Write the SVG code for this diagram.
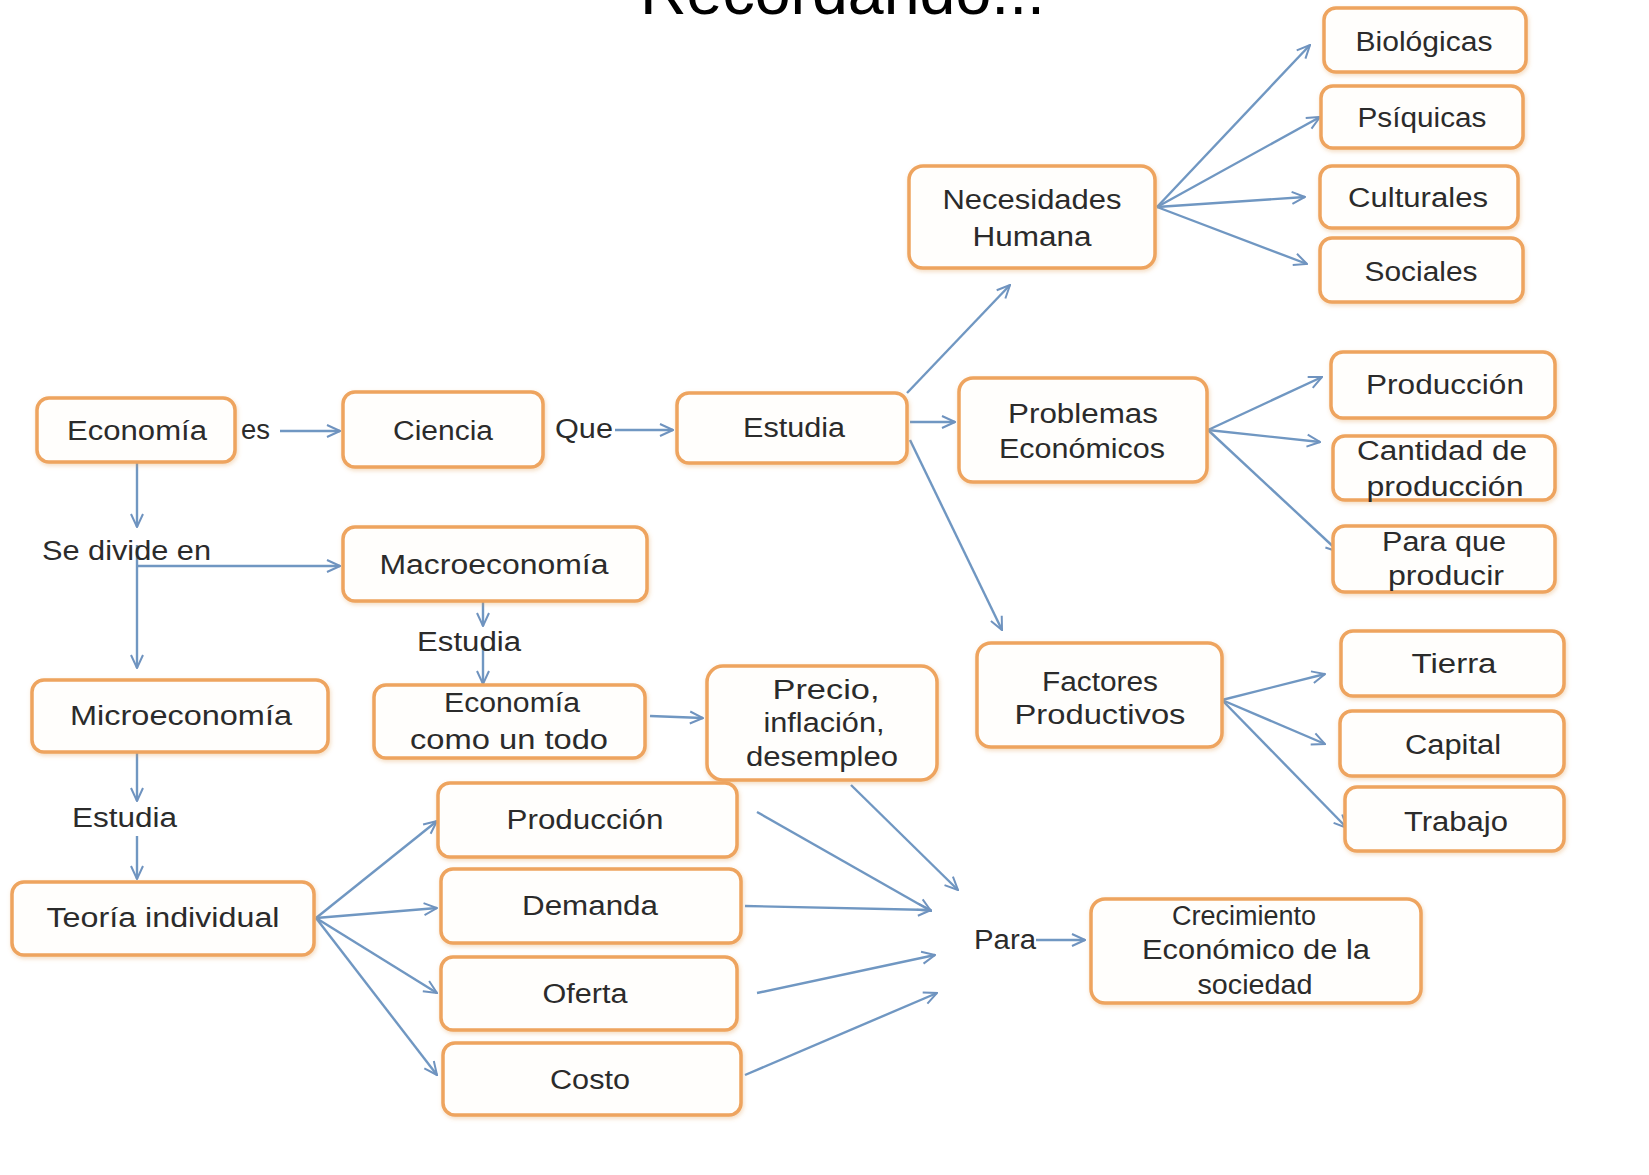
<svg xmlns="http://www.w3.org/2000/svg" width="1649" height="1175" viewBox="0 0 1649 1175">
<defs>
<filter id="sh" x="-10%" y="-10%" width="120%" height="130%">
<feDropShadow dx="1" dy="2" stdDeviation="2" flood-color="#e09a50" flood-opacity="0.35"/>
</filter>
<marker id="ar" viewBox="0 0 16 16" refX="15" refY="8" markerWidth="16" markerHeight="16" markerUnits="userSpaceOnUse" orient="auto">
<path d="M2,2 L15,8 L2,14" fill="none" stroke="#6f93bf" stroke-width="2"/>
</marker>
</defs>
<style>
.b{fill:#fffefc;stroke:#eea45e;stroke-width:3.5;filter:url(#sh)}
.t{font-family:"Liberation Sans",Arial,sans-serif;font-size:27px;fill:#2b2b2b;text-anchor:middle}
.l{font-family:"Liberation Sans",Arial,sans-serif;font-size:27px;fill:#2b2b2b}
.c{fill:none;stroke:#7097c2;stroke-width:2.4;marker-end:url(#ar)}
.n{fill:none;stroke:#7097c2;stroke-width:2.4}
</style>
<rect width="1649" height="1175" fill="#ffffff"/>
<text x="640" y="14" font-family="Liberation Sans,Arial,sans-serif" font-size="64" fill="#000" textLength="405" lengthAdjust="spacingAndGlyphs">Recordando...</text>

<g id="connectors">
<line class="c" x1="280" y1="431" x2="340" y2="431"/>
<line class="c" x1="615" y1="430" x2="673" y2="430"/>
<line class="c" x1="137" y1="462" x2="137" y2="527"/>
<line class="c" x1="137" y1="545" x2="137" y2="668"/>
<line class="c" x1="137" y1="566" x2="340" y2="566"/>
<line class="c" x1="483" y1="601" x2="483" y2="626"/>
<line class="c" x1="483" y1="640" x2="483" y2="684"/>
<line class="c" x1="650" y1="716" x2="703" y2="718"/>
<line class="c" x1="137" y1="752" x2="137" y2="801"/>
<line class="c" x1="137" y1="836" x2="137" y2="879"/>
<line class="c" x1="316" y1="918" x2="437" y2="821"/>
<line class="c" x1="316" y1="918" x2="437" y2="908"/>
<line class="c" x1="316" y1="918" x2="437" y2="993"/>
<line class="c" x1="316" y1="918" x2="437" y2="1075"/>
<line class="c" x1="757" y1="812" x2="931" y2="911"/>
<line class="c" x1="851" y1="785" x2="958" y2="890"/>
<line class="c" x1="745" y1="906" x2="931" y2="910"/>
<line class="c" x1="757" y1="993" x2="935" y2="955"/>
<line class="c" x1="745" y1="1075" x2="937" y2="993"/>
<line class="c" x1="1036" y1="940" x2="1085" y2="940"/>
<line class="c" x1="907" y1="393" x2="1010" y2="285"/>
<line class="c" x1="910" y1="422" x2="955" y2="422"/>
<line class="c" x1="910" y1="440" x2="1002" y2="630"/>
<line class="c" x1="1157" y1="207" x2="1310" y2="45"/>
<line class="c" x1="1157" y1="207" x2="1320" y2="117"/>
<line class="c" x1="1157" y1="207" x2="1305" y2="197"/>
<line class="c" x1="1157" y1="207" x2="1307" y2="264"/>
<line class="c" x1="1208" y1="430" x2="1322" y2="377"/>
<line class="c" x1="1208" y1="430" x2="1320" y2="442"/>
<line class="c" x1="1208" y1="430" x2="1339" y2="552"/>
<line class="c" x1="1222" y1="700" x2="1325" y2="674"/>
<line class="c" x1="1222" y1="700" x2="1325" y2="744"/>
<line class="c" x1="1222" y1="700" x2="1347" y2="828"/>
</g>

<g id="labels">
<text class="l" x="241" y="439" textLength="29" lengthAdjust="spacingAndGlyphs">es</text>
<text class="l" x="555" y="438" textLength="58" lengthAdjust="spacingAndGlyphs">Que</text>
<text class="l" x="42" y="560" textLength="169" lengthAdjust="spacingAndGlyphs">Se divide en</text>
<text class="l" x="417" y="651" textLength="104" lengthAdjust="spacingAndGlyphs">Estudia</text>
<text class="l" x="72" y="827" textLength="105" lengthAdjust="spacingAndGlyphs">Estudia</text>
<text class="l" x="974" y="949" textLength="62" lengthAdjust="spacingAndGlyphs">Para</text>
</g>

<g id="economia"><rect class="b" x="37" y="398" width="198" height="64" rx="12"/><text class="t" x="137" y="440" textLength="140" lengthAdjust="spacingAndGlyphs">Economía</text></g>
<g id="ciencia"><rect class="b" x="343" y="392" width="200" height="75" rx="12"/><text class="t" x="443" y="440" textLength="100" lengthAdjust="spacingAndGlyphs">Ciencia</text></g>
<g id="estudia"><rect class="b" x="677" y="393" width="230" height="70" rx="12"/><text class="t" x="794" y="437" textLength="102" lengthAdjust="spacingAndGlyphs">Estudia</text></g>
<g id="necesidades"><rect class="b" x="909" y="166" width="246" height="102" rx="14"/><text class="t" x="1032" y="209" textLength="179" lengthAdjust="spacingAndGlyphs">Necesidades</text><text class="t" x="1032" y="246" textLength="119" lengthAdjust="spacingAndGlyphs">Humana</text></g>
<g id="biologicas"><rect class="b" x="1324" y="8" width="202" height="64" rx="12"/><text class="t" x="1424" y="51" textLength="137" lengthAdjust="spacingAndGlyphs">Biológicas</text></g>
<g id="psiquicas"><rect class="b" x="1321" y="86" width="202" height="62" rx="12"/><text class="t" x="1422" y="127" textLength="129" lengthAdjust="spacingAndGlyphs">Psíquicas</text></g>
<g id="culturales"><rect class="b" x="1320" y="166" width="198" height="62" rx="12"/><text class="t" x="1418" y="207" textLength="140" lengthAdjust="spacingAndGlyphs">Culturales</text></g>
<g id="sociales"><rect class="b" x="1320" y="238" width="203" height="64" rx="12"/><text class="t" x="1421" y="281" textLength="113" lengthAdjust="spacingAndGlyphs">Sociales</text></g>
<g id="problemas"><rect class="b" x="959" y="378" width="248" height="104" rx="14"/><text class="t" x="1083" y="423" textLength="150" lengthAdjust="spacingAndGlyphs">Problemas</text><text class="t" x="1082" y="458" textLength="166" lengthAdjust="spacingAndGlyphs">Económicos</text></g>
<g id="produccion-r"><rect class="b" x="1331" y="352" width="224" height="66" rx="12"/><text class="t" x="1445" y="394" textLength="158" lengthAdjust="spacingAndGlyphs">Producción</text></g>
<g id="cantidad"><rect class="b" x="1333" y="436" width="222" height="64" rx="12"/><text class="t" x="1442" y="460" textLength="170" lengthAdjust="spacingAndGlyphs">Cantidad de</text><text class="t" x="1445" y="496" textLength="157" lengthAdjust="spacingAndGlyphs">producción</text></g>
<g id="paraque"><rect class="b" x="1333" y="526" width="222" height="66" rx="12"/><text class="t" x="1444" y="551" textLength="124" lengthAdjust="spacingAndGlyphs">Para que</text><text class="t" x="1446" y="585" textLength="116" lengthAdjust="spacingAndGlyphs">producir</text></g>
<g id="factores"><rect class="b" x="977" y="643" width="245" height="104" rx="14"/><text class="t" x="1100" y="691" textLength="116" lengthAdjust="spacingAndGlyphs">Factores</text><text class="t" x="1100" y="724" textLength="171" lengthAdjust="spacingAndGlyphs">Productivos</text></g>
<g id="tierra"><rect class="b" x="1341" y="631" width="223" height="65" rx="12"/><text class="t" x="1454" y="673" textLength="85" lengthAdjust="spacingAndGlyphs">Tierra</text></g>
<g id="capital"><rect class="b" x="1340" y="711" width="224" height="65" rx="12"/><text class="t" x="1453" y="754" textLength="96" lengthAdjust="spacingAndGlyphs">Capital</text></g>
<g id="trabajo"><rect class="b" x="1345" y="787" width="219" height="64" rx="12"/><text class="t" x="1456" y="831" textLength="104" lengthAdjust="spacingAndGlyphs">Trabajo</text></g>
<g id="macroeconomia"><rect class="b" x="343" y="527" width="304" height="74" rx="12"/><text class="t" x="494" y="574" textLength="229" lengthAdjust="spacingAndGlyphs">Macroeconomía</text></g>
<g id="comountodo"><rect class="b" x="374" y="685" width="271" height="73" rx="12"/><text class="t" x="512" y="712" textLength="136" lengthAdjust="spacingAndGlyphs">Economía</text><text class="t" x="509" y="749" textLength="198" lengthAdjust="spacingAndGlyphs">como un todo</text></g>
<g id="precio"><rect class="b" x="707" y="666" width="230" height="114" rx="16"/><text class="t" x="826" y="699" textLength="107" lengthAdjust="spacingAndGlyphs">Precio,</text><text class="t" x="824" y="732" textLength="121" lengthAdjust="spacingAndGlyphs">inflación,</text><text class="t" x="822" y="766" textLength="152" lengthAdjust="spacingAndGlyphs">desempleo</text></g>
<g id="microeconomia"><rect class="b" x="32" y="680" width="296" height="72" rx="12"/><text class="t" x="181" y="725" textLength="222" lengthAdjust="spacingAndGlyphs">Microeconomía</text></g>
<g id="teoria"><rect class="b" x="12" y="882" width="302" height="73" rx="12"/><text class="t" x="163" y="927" textLength="233" lengthAdjust="spacingAndGlyphs">Teoría individual</text></g>
<g id="produccion-b"><rect class="b" x="438" y="783" width="299" height="74" rx="12"/><text class="t" x="585" y="829" textLength="157" lengthAdjust="spacingAndGlyphs">Producción</text></g>
<g id="demanda"><rect class="b" x="441" y="869" width="300" height="74" rx="12"/><text class="t" x="590" y="915" textLength="136" lengthAdjust="spacingAndGlyphs">Demanda</text></g>
<g id="oferta"><rect class="b" x="441" y="957" width="296" height="73" rx="12"/><text class="t" x="585" y="1003" textLength="85" lengthAdjust="spacingAndGlyphs">Oferta</text></g>
<g id="costo"><rect class="b" x="443" y="1043" width="298" height="72" rx="12"/><text class="t" x="590" y="1089" textLength="80" lengthAdjust="spacingAndGlyphs">Costo</text></g>
<g id="crecimiento"><rect class="b" x="1091" y="899" width="330" height="104" rx="14"/><text class="t" x="1244" y="925" textLength="144" lengthAdjust="spacingAndGlyphs">Crecimiento</text><text class="t" x="1256" y="959" textLength="228" lengthAdjust="spacingAndGlyphs">Económico de la</text><text class="t" x="1255" y="994" textLength="115" lengthAdjust="spacingAndGlyphs">sociedad</text></g>
</svg>
